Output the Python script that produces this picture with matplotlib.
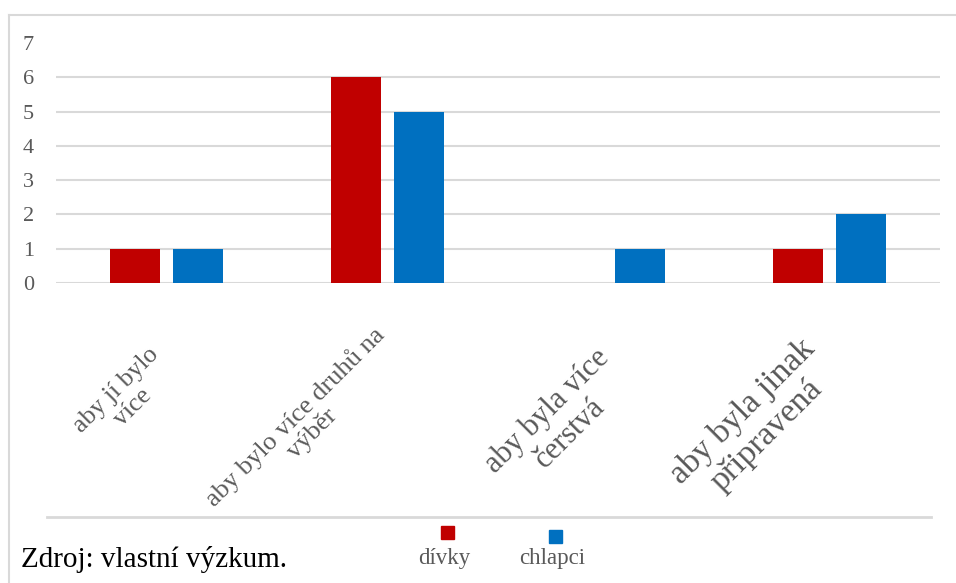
import matplotlib
matplotlib.use("Agg")
import matplotlib.pyplot as plt
import matplotlib.transforms as mtransforms
import numpy as np
from matplotlib.lines import Line2D
from matplotlib.patches import Rectangle

plt.rcParams['font.family'] = ['Liberation Serif', 'DejaVu Serif']

categories = ["aby jí bylo\nvíce", "aby bylo více druhů na\nvýběr",
              "aby byla více\nčerstvá", "aby byla jinak\npřipravená"]
label_sizes = [18.5, 19, 22, 24.3]
divky = [1, 6, 0, 1]
chlapci = [1, 5, 1, 2]
series_names = ["dívky", "chlapci"]
yticks = [0, 1, 2, 3, 4, 5, 6, 7]

# pixel nudges for the rotated category labels (dx, dy; dy down)
label_nudge = [(-19, 5), (-15, -16), (-14, 4), (-30, -6)]

RED = "#C00000"
BLUE = "#0070C0"
GRID = "#d9d9d9"
TXT = "#595959"

W, H = 956, 583
fig = plt.figure(figsize=(W / 100, H / 100), dpi=100)
ax = fig.add_axes([56 / W, 1 - 283 / H, 884 / W, 240 / H])

x = np.arange(len(categories))
bw = 0.226
off = 0.1425
ax.bar(x - off, divky, bw, color=RED, zorder=3)
ax.bar(x + off, chlapci, bw, color=BLUE, zorder=3)

# gridlines only up to 6, like the original
ax.hlines(yticks[:-1], -0.5, len(categories) - 0.5, color=GRID, lw=1.5, zorder=1)

ax.set_xlim(-0.5, len(categories) - 0.5)
ax.set_ylim(0, 7)
ax.set_yticks(yticks)
ax.set_yticklabels([str(v) for v in yticks], fontsize=16, color=TXT)
ax.set_xticks(x)
ax.set_xticklabels([])
ax.tick_params(axis="y", length=0, pad=16)
ax.tick_params(axis="x", length=0)
for sp in ax.spines.values():
    sp.set_visible(False)

# rotated category labels
base = mtransforms.blended_transform_factory(ax.transData, ax.transAxes)
for xi, cat, s, (dx, dy) in zip(x, categories, label_sizes, label_nudge):
    tr = base + mtransforms.ScaledTranslation(dx / 100, -(55.6 + dy) / 100, fig.dpi_scale_trans)
    ax.text(xi, 0, cat, transform=tr, rotation=45, ha="right", va="top",
            rotation_mode="anchor", multialignment="center", linespacing=1.1,
            fontsize=s, color=TXT, clip_on=False)

# outer chart frame (partly cut off)
fig.add_artist(Line2D([9 / W, 1], [1 - 15 / H] * 2, transform=fig.transFigure, color=GRID, lw=1.5))
fig.add_artist(Line2D([9 / W] * 2, [0, 1 - 15 / H], transform=fig.transFigure, color=GRID, lw=1.5))
# line above legend
fig.add_artist(Line2D([47 / W, 931 / W], [1 - 516.5 / H] * 2, transform=fig.transFigure, color=GRID, lw=2))

# legend: markers above names
for (cx, top), c, name in zip([(447.5, 526), (555.5, 530)], [RED, BLUE], series_names):
    fig.add_artist(Rectangle(((cx - 6.5) / W, 1 - (top + 13) / H), 13 / W, 13 / H,
                             transform=fig.transFigure, color=c))
    fig.text((cx - 3) / W, 1 - 564 / H, name, ha="center", va="baseline", fontsize=16.5, color=TXT)

fig.text(21 / W, 1 - 567 / H, "Zdroj: vlastní výzkum.", ha="left", va="baseline",
         fontsize=21, color="black")

fig.savefig("out.png", dpi=100)
